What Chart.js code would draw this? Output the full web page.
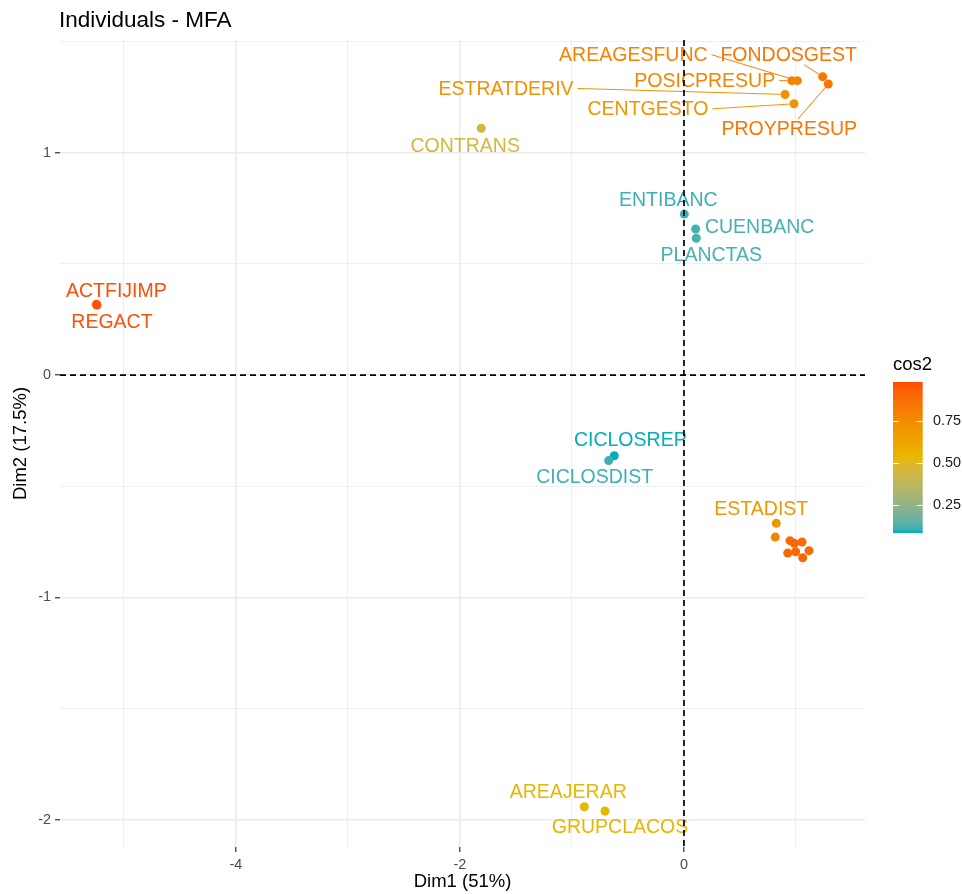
<!DOCTYPE html>
<html>
<head>
<meta charset="utf-8">
<title>Individuals - MFA</title>
<script src="https://cdn.jsdelivr.net/npm/chart.js@4.4.1/dist/chart.umd.min.js"></script>
<style>
  html, body { margin: 0; padding: 0; background: #fff; }
  canvas { display: block; }
</style>
</head>
<body>
<canvas id="grafico" width="962" height="894"></canvas>
<script>
// DATA (empty name = label hidden by the repel step)
const names = ['ACTFIJIMP', 'REGACT', 'CONTRANS', 'ENTIBANC', 'CUENBANC', 'PLANCTAS',
               'CICLOSREP', 'CICLOSDIST', 'AREAJERAR', 'GRUPCLACOS',
               'AREAGESFUNC', 'POSICPRESUP', 'FONDOSGEST', 'PROYPRESUP', 'ESTRATDERIV', 'CENTGESTO',
               'ESTADIST', '', '', '', '', '', '', '', ''];
const dim1 = [-5.245, -5.24, -1.81, 0.003, 0.104, 0.11,
              -0.622, -0.672, -0.89, -0.705,
              1.012, 0.962, 1.238, 1.288, 0.902, 0.982,
              0.824, 0.815, 0.946, 0.985, 1.054, 0.926, 0.997, 1.116, 1.06];
const dim2 = [0.318, 0.315, 1.11, 0.724, 0.657, 0.615,
              -0.363, -0.385, -1.942, -1.961,
              1.324, 1.324, 1.342, 1.309, 1.262, 1.22,
              -0.667, -0.729, -0.745, -0.757, -0.751, -0.801, -0.795, -0.79, -0.822];
const cos2 = [0.98, 0.97, 0.45, 0.11, 0.12, 0.12,
              0.083, 0.11, 0.53, 0.54,
              0.78, 0.78, 0.84, 0.84, 0.72, 0.71,
              0.7, 0.78, 0.88, 0.9, 0.88, 0.9, 0.9, 0.89, 0.9];
const ticksX = [-4, -2, 0];
const ticksY = [-2, -1, 0, 1];
const ticksLegend = [0.25, 0.5, 0.75];
const chartTitle = 'Individuals - MFA';
const titleX = 'Dim1 (51%)';
const titleY = 'Dim2 (17.5%)';
const legendTitle = 'cos2';

// label placement, pixels from the point (as laid out by ggrepel)
const labelOffsets = {
    ACTFIJIMP: [20, -14], REGACT: [15, 17], CONTRANS: [-16, 17],
    ENTIBANC: [-16, -14], CUENBANC: [64, -2], PLANCTAS: [15, 16],
    CICLOSREP: [16, -16], CICLOSDIST: [-14, 16], AREAJERAR: [-16, -15], GRUPCLACOS: [15, 16],
    AREAGESFUNC: [-164, -26], POSICPRESUP: [-87, 0], FONDOSGEST: [-34, -22],
    PROYPRESUP: [-39, 45], ESTRATDERIV: [-279, -6], CENTGESTO: [-146, 5], ESTADIST: [-15, -15]
};

const gradientColors = ['#00AFBB', '#E7B800', '#FC4E07'];
const fontFamily = '"Liberation Sans", Arial, Helvetica, sans-serif';

// COLOURS (gradient interpolated in Lab, like ggplot)
function hexToRgb(hex) { return [1, 3, 5].map(i => parseInt(hex.substr(i, 2), 16)); }
function toLinear(c) { c /= 255; return c <= 0.04045 ? c / 12.92 : Math.pow((c + 0.055) / 1.055, 2.4); }
function fromLinear(c) {
    const v = c <= 0.0031308 ? 12.92 * c : 1.055 * Math.pow(c, 1 / 2.4) - 0.055;
    return Math.round(Math.min(1, Math.max(0, v)) * 255);
}
function rgbToLab(rgb) {
    const [r, g, b] = rgb.map(toLinear);
    const x = (0.4124564 * r + 0.3575761 * g + 0.1804375 * b) / 0.95047;
    const y = 0.2126729 * r + 0.7151522 * g + 0.0721750 * b;
    const z = (0.0193339 * r + 0.1191920 * g + 0.9503041 * b) / 1.08883;
    const f = t => t > 0.008856 ? Math.cbrt(t) : 7.787 * t + 16 / 116;
    return [116 * f(y) - 16, 500 * (f(x) - f(y)), 200 * (f(y) - f(z))];
}
function labToRgb(lab) {
    const fy = (lab[0] + 16) / 116, fx = fy + lab[1] / 500, fz = fy - lab[2] / 200;
    const inv = t => t * t * t > 0.008856 ? t * t * t : (t - 16 / 116) / 7.787;
    const x = inv(fx) * 0.95047, y = inv(fy), z = inv(fz) * 1.08883;
    const r = 3.2404542 * x - 1.5371385 * y - 0.4985314 * z;
    const g = -0.9692660 * x + 1.8760108 * y + 0.0415560 * z;
    const b = 0.0556434 * x - 0.2040259 * y + 1.0572252 * z;
    return [r, g, b].map(fromLinear);
}
function colorAt(t) {
    t = Math.min(1, Math.max(0, t));
    const n = gradientColors.length - 1;
    const i = Math.min(n - 1, Math.floor(t * n));
    const f = t * n - i;
    const a = rgbToLab(hexToRgb(gradientColors[i]));
    const b = rgbToLab(hexToRgb(gradientColors[i + 1]));
    return 'rgb(' + labToRgb(a.map((v, k) => v + (b[k] - v) * f)).join(',') + ')';
}

const cosMin = Math.min(...cos2);
const cosMax = Math.max(...cos2);
const pointColors = cos2.map(v => colorAt((v - cosMin) / (cosMax - cosMin)));
const pointRadius = 4.5;

// PLUGIN: labels, segments, dashed axes, title, colour bar
const extras = {
    id: 'extras',
    afterDatasetsDraw(chart) {
        const ctx = chart.ctx, sx = chart.scales.x, sy = chart.scales.y, area = chart.chartArea;
        ctx.save();
        ctx.font = '19.5px ' + fontFamily;
        ctx.textAlign = 'center';
        ctx.textBaseline = 'middle';
        names.forEach(function (name, i) {
            if (!name) return;
            const px = sx.getPixelForValue(dim1[i]), py = sy.getPixelForValue(dim2[i]);
            const off = labelOffsets[name] || [0, -16];
            const cx = px + off[0], cy = py + off[1];
            const hw = ctx.measureText(name).width / 2 + 4, hh = 10;
            const dx = px - cx, dy = py - cy;
            let ax, ay;
            if (Math.abs(dx) > hw && Math.abs(dx) - hw >= Math.abs(dy) - hh) {
                ax = cx + Math.sign(dx) * hw; ay = cy;
            } else {
                const t = hh / Math.abs(dy);
                ax = cx + dx * t; ay = cy + dy * t;
            }
            const len = Math.hypot(px - ax, py - ay);
            if (len - pointRadius > 6) {
                const k = (len - pointRadius) / len;
                ctx.strokeStyle = pointColors[i];
                ctx.lineWidth = 1;
                ctx.beginPath();
                ctx.moveTo(ax, ay);
                ctx.lineTo(ax + (px - ax) * k, ay + (py - ay) * k);
                ctx.stroke();
            }
            ctx.fillStyle = pointColors[i];
            ctx.fillText(name, cx, cy + 1);
        });

        // dashed reference lines
        const x0 = sx.getPixelForValue(0), y0 = sy.getPixelForValue(0);
        ctx.strokeStyle = '#000';
        ctx.lineWidth = 1.7;
        ctx.setLineDash([6, 4]);
        ctx.beginPath();
        ctx.moveTo(x0, area.top); ctx.lineTo(x0, area.bottom);
        ctx.moveTo(area.left, y0); ctx.lineTo(area.right, y0);
        ctx.stroke();
        ctx.restore();
    },
    afterDraw(chart) {
        const ctx = chart.ctx;
        ctx.save();
        ctx.fillStyle = '#000';
        ctx.textAlign = 'left';
        ctx.textBaseline = 'alphabetic';
        ctx.font = '22.5px ' + fontFamily;
        ctx.fillText(chartTitle, 59, 27);

        // colour bar
        const barL = 893, barR = 922.7, barT = 382, barB = 533;
        ctx.font = '18.5px ' + fontFamily;
        ctx.fillText(legendTitle, barL, 370);
        const grad = ctx.createLinearGradient(0, barB, 0, barT);
        for (let s = 0; s <= 40; s++) grad.addColorStop(s / 40, colorAt(s / 40));
        ctx.fillStyle = grad;
        ctx.fillRect(barL, barT, barR - barL, barB - barT);
        ctx.strokeStyle = '#fff';
        ctx.lineWidth = 1;
        ctx.font = '14.4px ' + fontFamily;
        ctx.textBaseline = 'middle';
        ticksLegend.forEach(function (v) {
            const ty = Math.round(barB - (v - cosMin) / (cosMax - cosMin) * (barB - barT)) + 0.5;
            ctx.beginPath();
            ctx.moveTo(barL, ty); ctx.lineTo(barL + 6, ty);
            ctx.moveTo(barR - 6, ty); ctx.lineTo(barR, ty);
            ctx.stroke();
            ctx.fillStyle = '#1a1a1a';
            ctx.fillText(v.toFixed(2), 933, ty);
        });
        ctx.restore();
    }
};

function gridScale(majors, step, from, to, title, titlePad) {
    return {
        type: 'linear',
        min: from,
        max: to,
        afterBuildTicks: function (scale) {
            const list = [];
            for (let v = Math.ceil(from / step) * step; v <= to + 1e-9; v += step) list.push({ value: +v.toFixed(3) });
            scale.ticks = list;
        },
        border: { display: false },
        grid: {
            color: '#EBEBEB',
            lineWidth: c => majors.includes(c.tick.value) ? 1.5 : 0.8,
            tickColor: c => majors.includes(c.tick.value) ? '#333333' : 'rgba(0,0,0,0)',
            tickLength: 5,
            tickWidth: 1.2
        },
        ticks: {
            autoSkip: false,
            maxRotation: 0,
            padding: 4,
            color: '#4D4D4D',
            font: { family: fontFamily, size: 14.4 },
            callback: v => majors.includes(v) ? String(v) : ''
        },
        title: {
            display: true,
            text: title,
            color: '#000',
            font: { family: fontFamily, size: 18.5 },
            padding: titlePad
        }
    };
}

const scaleX = gridScale(ticksX, 1, -5.57, 1.616, titleX, { top: 0, bottom: 1 });
scaleX.afterFit = s => { s.height = 894 - 847; };
const scaleY = gridScale(ticksY, 0.5, -2.123, 1.507, titleY, { top: 10, bottom: 0 });
scaleY.afterFit = s => { s.width = 60; };

const grafico = new Chart(document.getElementById('grafico'), {
    type: 'scatter',
    data: {
        datasets: [{
            data: dim1.map((x, i) => ({ x: x, y: dim2[i] })),
            backgroundColor: pointColors,
            borderColor: pointColors,
            borderWidth: 0,
            pointRadius: pointRadius,
            pointHoverRadius: pointRadius
        }]
    },
    options: {
        responsive: false,
        animation: false,
        layout: { padding: { top: 40, right: 97, left: 0, bottom: 0 } },
        plugins: { legend: { display: false }, tooltip: { enabled: false } },
        scales: { x: scaleX, y: scaleY }
    },
    plugins: [extras]
});
</script>
</body>
</html>
